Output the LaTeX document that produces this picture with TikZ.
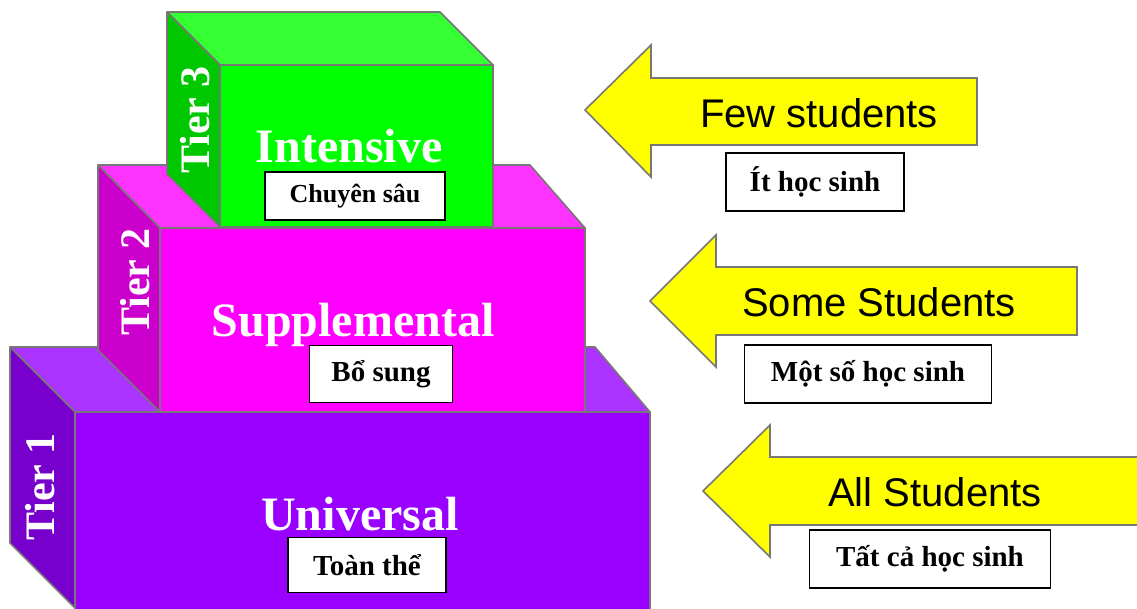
\documentclass[tikz,border=0pt]{standalone}
\usepackage{fontspec}
\setmainfont{Liberation Serif}
\newfontfamily\arialfont{Liberation Sans}
\definecolor{khung}{HTML}{777777}
\definecolor{tim}{HTML}{9900FF}
\definecolor{timsang}{HTML}{AA33FF}
\definecolor{timtoi}{HTML}{7700CC}
\definecolor{hong}{HTML}{FF00FF}
\definecolor{hongsang}{HTML}{FF33FF}
\definecolor{hongtoi}{HTML}{CC00CC}
\definecolor{xanh}{HTML}{00FF00}
\definecolor{xanhsang}{HTML}{33FF33}
\definecolor{xanhtoi}{HTML}{00C800}
\definecolor{vang}{HTML}{FFFF00}
\begin{document}
\begin{tikzpicture}[x=1pt,y=-1pt,
	mat/.style={draw=khung,line width=1.6pt,line join=round},
	tier/.style={text=white,rotate=90,font=\fontsize{42}{42}\selectfont\bfseries},
	tenmuc/.style={text=white,anchor=base,font=\fontsize{48}{48}\selectfont\bfseries},
	hop/.style={draw=black,line width=1.2pt,fill=white,inner sep=0pt,font=\fontsize{29}{29}\selectfont\bfseries},
	muiten/.style={draw=khung,fill=vang,line width=1.6pt,line join=miter},
	chu/.style={font=\arialfont\fontsize{40}{40}\selectfont}]
	\useasboundingbox (0,0) rectangle (1137,608);
	% Tang 1 (khoi tim)
	\coordinate (A1) at (10,347); \coordinate (B1) at (595,347);
	\coordinate (C1) at (75,412); \coordinate (D1) at (650,412);
	\coordinate (E1) at (75,608); \coordinate (G1) at (10,543);
	\filldraw[mat,fill=timsang] (A1)--(B1)--(D1)--(C1)--cycle; % mat tren
	\filldraw[mat,fill=timtoi] (A1)--(C1)--(E1)--(G1)--cycle; % mat ben
	\filldraw[mat,fill=tim] (C1)--(D1)--(650,620)--(75,620)--cycle; % mat truoc
	% Tang 2 (khoi hong)
	\coordinate (A2) at (98,165); \coordinate (B2) at (530,165);
	\coordinate (C2) at (160,228); \coordinate (D2) at (585,228);
	\coordinate (E2) at (160,412); \coordinate (F2) at (585,412); \coordinate (G2) at (98,350);
	\filldraw[mat,fill=hongsang] (A2)--(B2)--(D2)--(C2)--cycle;
	\filldraw[mat,fill=hongtoi] (A2)--(C2)--(E2)--(G2)--cycle;
	\filldraw[mat,fill=hong] (C2)--(D2)--(F2)--(E2)--cycle;
	% Tang 3 (khoi xanh)
	\coordinate (A3) at (167,12); \coordinate (B3) at (440,12);
	\coordinate (C3) at (220,65); \coordinate (D3) at (493,65);
	\coordinate (E3) at (220,227); \coordinate (F3) at (493,227); \coordinate (G3) at (167,174);
	\filldraw[mat,fill=xanhsang] (A3)--(B3)--(D3)--(C3)--cycle;
	\filldraw[mat,fill=xanhtoi] (A3)--(C3)--(E3)--(G3)--cycle;
	\filldraw[mat,fill=xanh] (C3)--(D3)--(F3)--(E3)--cycle;
	% Nhan cac tang
	\node[tier] (t1) at (40,487) {Tier 1};
	\node[tier] (t2) at (135,282) {Tier 2};
	\node[tier] (t3) at (195,120) {Tier 3};
	\node[tenmuc] (u) at (360,530) {Universal};
	\node[tenmuc] (s) at (353,336) {Supplemental};
	\node[tenmuc] (i) at (349,162) {Intensive};
	\node[hop,minimum width=180,minimum height=48,font=\fontsize{26}{26}\selectfont\bfseries] (cs) at (355,196) {Chuyên sâu};
	\node[hop,minimum width=143,minimum height=57] (bs) at (381,374) {Bổ sung};
	\node[hop,minimum width=158,minimum height=55] (tt) at (367,565) {Toàn thể};
	% Mui ten vang
	\filldraw[muiten] (585,110)--(651,45)--(651,78)--(977,78)--(977,145)--(651,145)--(651,177)--cycle;
	\filldraw[muiten] (650,301)--(716,235)--(716,267)--(1077,267)--(1077,335)--(716,335)--(716,367)--cycle;
	\filldraw[muiten] (703,491)--(770,425)--(770,457)--(1150,457)--(1150,525)--(770,525)--(770,557)--cycle;
	\node[chu] (few) at (819,113) {Few students};
	\node[chu] (some) at (879,302) {Some Students};
	\node[chu] (all) at (935,492) {All Students};
	\node[hop,minimum width=178,minimum height=58] (it) at (815,182) {Ít học sinh};
	\node[hop,minimum width=247,minimum height=58] (mot) at (868,374) {Một số học sinh};
	\node[hop,minimum width=241,minimum height=58] (tat) at (930,559) {Tất cả học sinh};
\end{tikzpicture}
\end{document}
